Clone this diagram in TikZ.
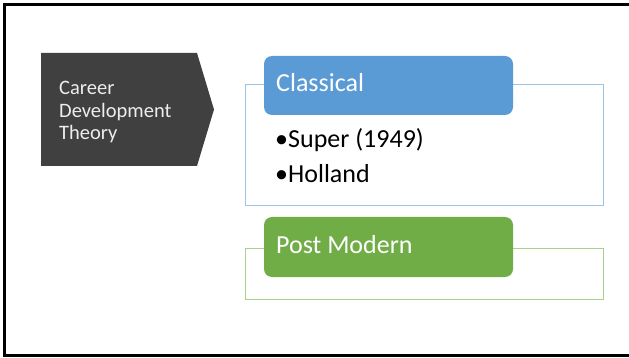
\documentclass[tikz,border=0pt]{standalone}
\usepackage{fontspec}
\setmainfont{Carlito}
\definecolor{chev}{HTML}{404040}
\definecolor{chevtext}{HTML}{EDEDED}
\definecolor{bluefill}{HTML}{5B9BD5}
\definecolor{blueline}{HTML}{9DC3E6}
\definecolor{greenfill}{HTML}{70AD47}
\definecolor{greenline}{HTML}{A9D18E}
\tikzset{
  headbox/.style={rounded corners=8pt, draw=none},
  outlinebox/.style={line width=1pt},
  headtext/.style={text=white, font=\fontsize{26}{30}\selectfont, anchor=base west, inner sep=0pt},
  itemtext/.style={text=black, font=\fontsize{26}{30}\selectfont, anchor=base west, inner sep=0pt},
}
\begin{document}
\begin{tikzpicture}[x=1pt,y=-1pt]
\useasboundingbox (0,0) rectangle (629,358);
% frame
\draw[line width=3pt, black] (4.5,4.5) rectangle (640,355.5);
% chevron
\fill[chev] (41,53) -- (197,53) -- (214,109.5) -- (197,166) -- (41,166) -- cycle;
\node[text=chevtext, font=\fontsize{20.5}{22.5}\selectfont, align=left, anchor=base west, inner sep=0pt] (cdt) at (59,140) {Career\\Development\\Theory};
% classical
\draw[outlinebox, blueline] (245,85) rectangle (603,206);
\fill[headbox, bluefill] (264,56) rectangle (513,115);
\node[headtext] (classical) at (276,92) {Classical};
\node[itemtext] (super) at (275,148) {\makebox[13pt][l]{•}Super (1949)};
\node[itemtext] (holland) at (275,183) {\makebox[13pt][l]{•}Holland};
% post modern
\draw[outlinebox, greenline] (245,248) rectangle (603,299);
\fill[headbox, greenfill] (264,217) rectangle (513,277);
\node[headtext] (postmodern) at (276,254) {Post Modern};
\end{tikzpicture}
\end{document}
